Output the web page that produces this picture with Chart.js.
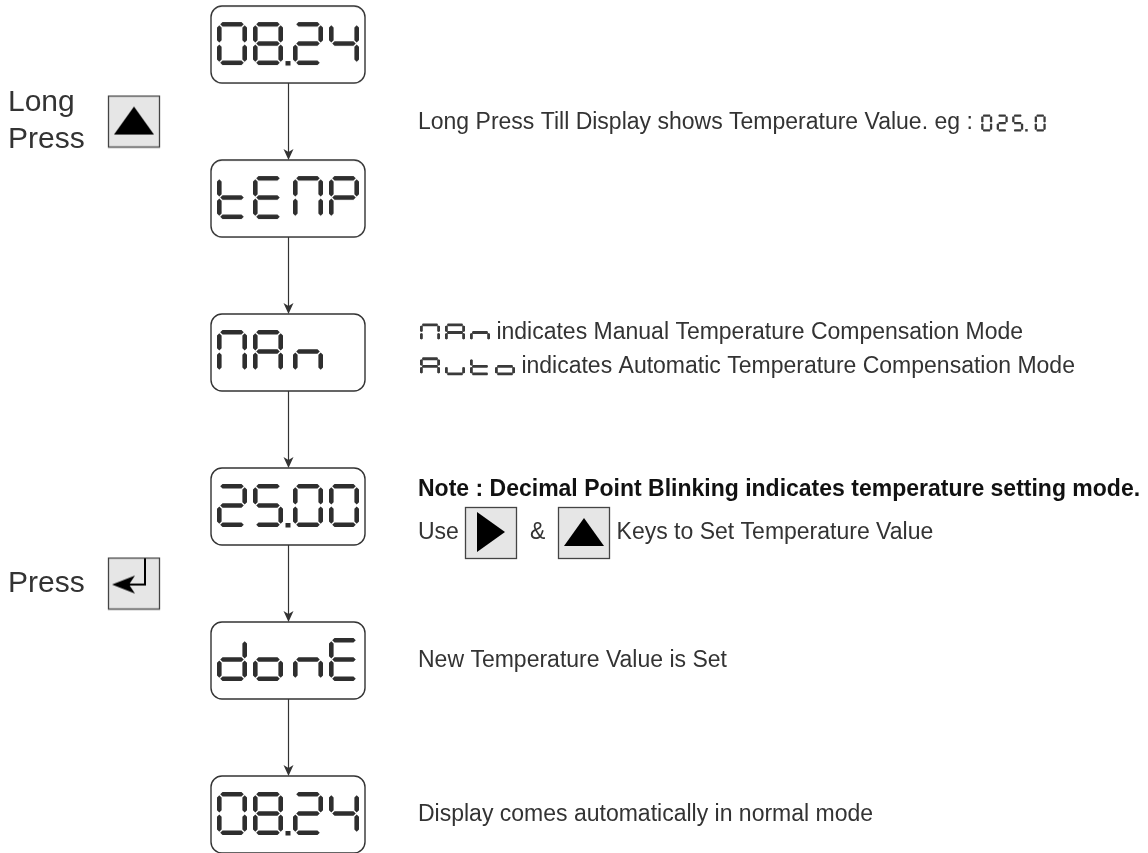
<!DOCTYPE html>
<html>
<head>
<meta charset="utf-8">
<title>Temperature setting</title>
<script src="https://cdn.jsdelivr.net/npm/chart.js@4.4.1/dist/chart.umd.min.js"></script>
<style>
  html, body { margin: 0; padding: 0; background: #fff; }
  #wrap { width: 1148px; height: 853px; }
</style>
</head>
<body>
<div id="wrap"><canvas id="flow"></canvas></div>
<script>
// Codes shown on the display, one per step, top to bottom
const stepDisplays = ['08.24', 'tENP', 'NAn', '25.00', 'donE', '08.24'];

// Key presses on the left, placed between steps (step units)
const keyLabels = [['Long', 'Press'], ['Press']];
const keyNames = ['up', 'enter'];
const keySteps = [0.5, 3.5];

// Notes on the right: {..} small display code, [..] key, leading * = bold
const noteSteps = [0.51, 1.87, 2.09, 2.89, 3.17, 4.0, 5.0];
const noteTexts = [
  'Long Press Till Display shows Temperature Value. eg : {025.0}',
  '{NAn} indicates Manual Temperature Compensation Mode',
  '{Auto} indicates Automatic Temperature Compensation Mode',
  '*Note : Decimal Point Blinking indicates temperature setting mode.',
  'Use [right]  &  [up] Keys to Set Temperature Value',
  'New Temperature Value is Set',
  'Display comes automatically in normal mode'
];

// layout constants (x scale is in page pixels)
const DISPLAY_X = 288;
const KEY_X = 134;
const LABEL_X = 8;
const NOTE_X = 418;
const BOX_W = 154, BOX_H = 77;
const INK = '#333';
const FONT = '"Liberation Sans", Arial, sans-serif';

// seven segment letters: a top, b top right, c bottom right, d bottom, e bottom left, f top left, g middle
const SEGS = {
  '0': 'abcdef', '2': 'abdeg', '4': 'bcfg', '5': 'acdfg', '8': 'abcdefg',
  't': 'defg', 'E': 'adefg', 'N': 'abcef', 'P': 'abefg', 'A': 'abcefg',
  'n': 'ceg', 'd': 'bcdeg', 'o': 'cdeg', 'u': 'cde'
};

function hseg(ctx, x1, x2, cy, t, tip) {
  const h = t / 2;
  ctx.moveTo(x1, cy); ctx.lineTo(x1 + tip, cy - h); ctx.lineTo(x2 - tip, cy - h);
  ctx.lineTo(x2, cy); ctx.lineTo(x2 - tip, cy + h); ctx.lineTo(x1 + tip, cy + h);
  ctx.closePath();
}

function vseg(ctx, y1, y2, cx, t, tip) {
  const h = t / 2;
  ctx.moveTo(cx, y1); ctx.lineTo(cx + h, y1 + tip); ctx.lineTo(cx + h, y2 - tip);
  ctx.lineTo(cx, y2); ctx.lineTo(cx - h, y2 - tip); ctx.lineTo(cx - h, y1 + tip);
  ctx.closePath();
}

function drawGlyph(ctx, ch, x, y, w, h, t, sharp) {
  const on = SEGS[ch] || '';
  const g = Math.max(0.5, t * 0.2);
  const tip = t / 2 * (sharp === undefined ? 1 : sharp);
  const l = x + t / 2, r = x + w - t / 2;
  const top = y + t / 2, mid = y + h / 2, bot = y + h - t / 2;
  ctx.beginPath();
  if (on.includes('a')) hseg(ctx, l + g, r - g, top, t, tip);
  if (on.includes('g')) hseg(ctx, l + g, r - g, mid, t, tip);
  if (on.includes('d')) hseg(ctx, l + g, r - g, bot, t, tip);
  if (on.includes('f')) vseg(ctx, top + g, mid - g, l, t, tip);
  if (on.includes('e')) vseg(ctx, mid + g, bot - g, l, t, tip);
  if (on.includes('b')) vseg(ctx, top + g, mid - g, r, t, tip);
  if (on.includes('c')) vseg(ctx, mid + g, bot - g, r, t, tip);
  ctx.fill();
}

// '08.24' -> [{ch:'0'}, {ch:'8', dot:true}, ...]
function parseDisplay(code) {
  const out = [];
  for (const ch of code) {
    if (ch === '.' && out.length) out[out.length - 1].dot = true;
    else out.push({ ch: ch, dot: false });
  }
  return out;
}

function roundRect(ctx, x, y, w, h, r) {
  ctx.beginPath();
  ctx.moveTo(x + r, y);
  ctx.arcTo(x + w, y, x + w, y + h, r);
  ctx.arcTo(x + w, y + h, x, y + h, r);
  ctx.arcTo(x, y + h, x, y, r);
  ctx.arcTo(x, y, x + w, y, r);
  ctx.closePath();
}

function makeDisplayImage(code) {
  const c = document.createElement('canvas');
  c.width = BOX_W + 2; c.height = BOX_H + 2;
  const ctx = c.getContext('2d');
  roundRect(ctx, 1, 1, BOX_W, BOX_H, 11);
  ctx.fillStyle = '#fff'; ctx.fill();
  ctx.strokeStyle = INK; ctx.lineWidth = 1.4; ctx.stroke();
  ctx.fillStyle = '#2e2e2e';
  parseDisplay(code).forEach((g, i) => {
    const gx = 7 + i * 36 + (i >= 2 ? 4 : 0);
    drawGlyph(ctx, g.ch, gx, 17, 30, 43, 4.6);
    if (g.dot) ctx.fillRect(gx + 32.5, 56, 5, 4.5);
  });
  return c;
}

function makeKeyImage(name) {
  const c = document.createElement('canvas');
  c.width = 54; c.height = 54;
  const ctx = c.getContext('2d');
  ctx.fillStyle = '#e6e6e6'; ctx.fillRect(1, 1, 52, 52);
  ctx.strokeStyle = '#444'; ctx.lineWidth = 1.3; ctx.strokeRect(1.5, 1.5, 51, 51);
  ctx.fillStyle = '#000'; ctx.strokeStyle = '#000';
  ctx.beginPath();
  if (name === 'up') {
    ctx.moveTo(27, 12); ctx.lineTo(47, 40); ctx.lineTo(7, 40); ctx.closePath(); ctx.fill();
  } else if (name === 'right') {
    ctx.moveTo(41, 26); ctx.lineTo(13, 46); ctx.lineTo(13, 6); ctx.closePath(); ctx.fill();
  } else if (name === 'enter') {
    ctx.lineWidth = 2;
    ctx.moveTo(22, 28); ctx.lineTo(38, 28); ctx.lineTo(38, 2); ctx.stroke();
    ctx.beginPath();
    ctx.moveTo(5, 28); ctx.lineTo(28, 19); ctx.lineTo(22, 28); ctx.lineTo(28, 37);
    ctx.closePath(); ctx.fill();
  }
  return c;
}

const displayImages = stepDisplays.map(makeDisplayImage);
const keyImages = { up: makeKeyImage('up'), right: makeKeyImage('right'), enter: makeKeyImage('enter') };

// small display code inside a note line, returns the x where it ends
function drawInlineDisplay(ctx, code, x, cy) {
  const letters = /[A-Za-z]/.test(code);
  const w = letters ? 20 : 11, h = letters ? 18 : 17, t = letters ? 2.8 : 2.3;
  const pitch = letters ? 25 : 15.5;
  let gx = x + 2;
  ctx.save();
  ctx.fillStyle = '#3a3a3a';
  parseDisplay(code).forEach(g => {
    drawGlyph(ctx, g.ch, gx, cy - h / 2, w, h, t, 0.5);
    gx += pitch;
    if (g.dot) {
      ctx.fillRect(gx - 2.5, cy + h / 2 - 2.5, 2.5, 2.5);
      gx += 7;
    }
  });
  ctx.restore();
  return gx - (pitch - w);
}

const flowPlugin = {
  id: 'flow',
  beforeDatasetsDraw(chart) {
    const { ctx, scales: { x, y } } = chart;
    ctx.save();
    ctx.strokeStyle = INK; ctx.fillStyle = INK; ctx.lineWidth = 1.2;
    const ax = Math.round(x.getPixelForValue(DISPLAY_X)) + 0.5;
    for (let i = 0; i < stepDisplays.length - 1; i++) {
      const y1 = y.getPixelForValue(i) + BOX_H / 2;
      const y2 = y.getPixelForValue(i + 1) - BOX_H / 2;
      ctx.beginPath(); ctx.moveTo(ax, y1); ctx.lineTo(ax, y2 - 6); ctx.stroke();
      ctx.beginPath();
      ctx.moveTo(ax, y2); ctx.lineTo(ax - 5, y2 - 11); ctx.lineTo(ax, y2 - 8); ctx.lineTo(ax + 5, y2 - 11);
      ctx.closePath(); ctx.fill();
    }
    ctx.restore();
  },
  afterDatasetsDraw(chart) {
    const { ctx, scales: { x, y } } = chart;
    ctx.save();
    ctx.textBaseline = 'middle';
    ctx.textAlign = 'left';

    // key labels
    ctx.font = '30px ' + FONT;
    ctx.fillStyle = INK;
    keyLabels.forEach((lines, i) => {
      const cy = y.getPixelForValue(keySteps[i]);
      lines.forEach((t, j) => ctx.fillText(t, x.getPixelForValue(LABEL_X), cy + (j - (lines.length - 1) / 2) * 37));
    });

    // notes
    noteTexts.forEach((raw, i) => {
      const bold = raw.startsWith('*');
      const line = bold ? raw.slice(1) : raw;
      ctx.font = (bold ? 'bold ' : '') + '23px ' + FONT;
      ctx.fillStyle = bold ? '#111' : INK;
      const cy = y.getPixelForValue(noteSteps[i]);
      let cx = x.getPixelForValue(NOTE_X);
      line.split(/(\{[^}]*\}|\[[^\]]*\])/).forEach(part => {
        if (!part) return;
        if (part[0] === '{') {
          cx = drawInlineDisplay(ctx, part.slice(1, -1), cx, cy);
        } else if (part[0] === '[') {
          const img = keyImages[part.slice(1, -1)];
          ctx.drawImage(img, Math.round(cx) - 1, Math.round(cy - 27));
          cx += 52;
        } else {
          ctx.fillText(part, cx, cy);
          cx += ctx.measureText(part).width;
        }
      });
    });
    ctx.restore();
  }
};

new Chart(document.getElementById('flow'), {
  type: 'scatter',
  data: {
    datasets: [
      {
        label: 'Display',
        data: stepDisplays.map((s, i) => ({ x: DISPLAY_X, y: i })),
        pointStyle: c => displayImages[c.dataIndex],
        pointRadius: 2,
        clip: false
      },
      {
        label: 'Keys',
        data: keySteps.map(v => ({ x: KEY_X, y: v })),
        pointStyle: c => keyImages[keyNames[c.dataIndex]],
        pointRadius: 2,
        clip: false
      }
    ]
  },
  options: {
    responsive: true,
    maintainAspectRatio: false,
    animation: false,
    events: [],
    layout: { padding: 0, autoPadding: false },
    plugins: { legend: { display: false }, tooltip: { enabled: false } },
    scales: {
      x: { type: 'linear', display: false, min: 0, max: 1148 },
      y: { type: 'linear', display: false, reverse: true, min: -0.289, max: 5.25 }
    }
  },
  plugins: [flowPlugin]
});
</script>
</body>
</html>
